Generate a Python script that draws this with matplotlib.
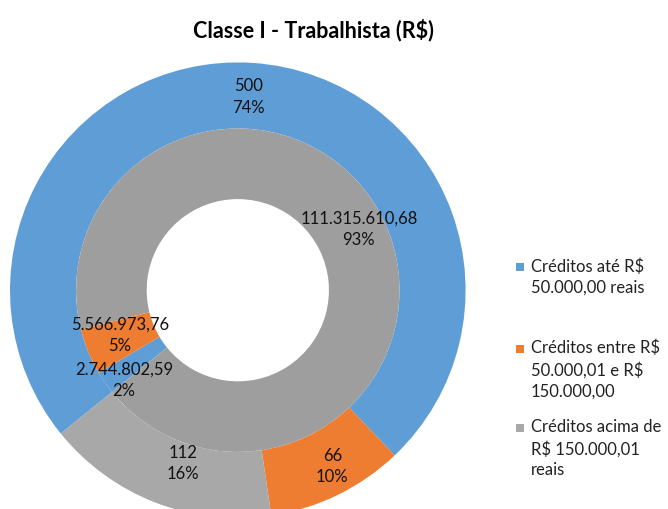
import numpy as np
import matplotlib.pyplot as plt
from matplotlib.patches import Rectangle

plt.rcParams['font.family'] = ['Lato', 'DejaVu Sans']

# Dados do gráfico
categorias = ['Créditos até R$\n50.000,00 reais',
              'Créditos entre R$\n50.000,01 e R$\n150.000,00',
              'Créditos acima de\nR$ 150.000,01\nreais']
qtd_credores = [500, 66, 112]  # anel externo
valores = [2744802.59, 5566973.76, 111315610.68]  # anel interno
rotulos_qtd = ['500', '66', '112']
pct_qtd = ['74%', '10%', '16%']
rotulos_valor = ['2.744.802,59', '5.566.973,76', '111.315.610,68']
pct_valor = ['2%', '5%', '93%']

cores_ext = ['#5F9DD6', '#EE7D31', '#A8A8A8']
cores_int = ['#5F9DD6', '#EE7D31', '#9E9E9E']

fig = plt.figure(figsize=(6.68, 5.1), dpi=100)
ax = fig.add_axes([0.015, -0.018, 0.682, 0.894])

inicio = 90 - 231  # ângulo inicial (Excel: 231° a partir do topo)
w_ext, _ = ax.pie(qtd_credores, radius=1.0, colors=cores_ext, startangle=inicio,
                  counterclock=False, wedgeprops=dict(width=0.29, linewidth=0))
w_int, _ = ax.pie(valores, radius=0.71, colors=cores_int, startangle=inicio,
                  counterclock=False, wedgeprops=dict(width=0.31, linewidth=0))
ax.set_xlim(-1, 1)
ax.set_ylim(-1, 1)
ax.set_aspect('equal')


def rotulo(w, txt, r, dx=0.0, dy=0.0):
    ang = np.deg2rad((w.theta1 + w.theta2) / 2)
    ax.text(r * np.cos(ang) + dx, r * np.sin(ang) + dy, txt, ha='center', va='center',
            fontsize=12, linespacing=1.42, color='#111111')


ajustes_ext = [(-0.01, 0.0), (0.04, 0.0), (0.07, 0.04)]
for w, t, p, a in zip(w_ext, rotulos_qtd, pct_qtd, ajustes_ext):
    rotulo(w, f'{t}\n{p}', 0.855, a[0], a[1])

ajustes = [(-0.04, -0.07), (0.0, 0.02), (0.03, 0.02)]
for w, t, p, a in zip(w_int, rotulos_valor, pct_valor, ajustes):
    rotulo(w, f'{t}\n{p}', 0.56, a[0], a[1])

fig.text(0.469, 1 - 30 / 510, 'Classe I - Trabalhista (R$)', ha='center', va='center',
         fontsize=15.5, fontweight='bold')

# Legenda manual
ys = [268, 350, 429]
for cat, cor, y in zip(categorias, cores_ext, ys):
    fig.add_artist(Rectangle((516 / 668, 1 - (y + 4) / 510), 8 / 668, 8 / 510,
                             transform=fig.transFigure, color=cor, lw=0))
    fig.text(531 / 668, 1 - (y - 10) / 510, cat, ha='left', va='top',
             fontsize=12, linespacing=1.38, color='#222222')

plt.savefig('out.png', dpi=100)
